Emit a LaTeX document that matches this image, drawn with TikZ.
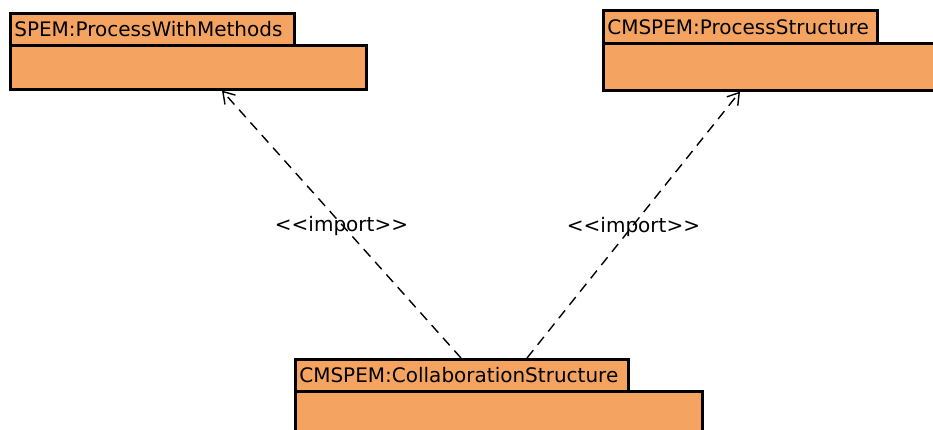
\documentclass[tikz,border=0pt]{standalone}
\usepackage{fontspec}
\setmainfont{DejaVu Sans}
\usetikzlibrary{arrows.meta}
\definecolor{pkgfill}{RGB}{244,164,96}
\begin{document}
\begin{tikzpicture}[x=1pt,y=-1pt,
  pkgtab/.style={draw=black, line width=2.6pt, fill=pkgfill, anchor=north west,
    inner xsep=4pt, inner ysep=0pt, align=left, font=\fontsize{20}{23}\selectfont},
  pkgbody/.style={draw=black, line width=2.6pt, fill=pkgfill, anchor=north west, inner sep=0pt},
  dep/.style={line width=1.4pt, dash pattern=on 10pt off 7pt,
    -{Straight Barb[length=11pt,width=14pt,line width=1.4pt]}},
  deplabel/.style={font=\fontsize{20}{23}\selectfont, inner sep=0pt, yshift=-2pt}]
\useasboundingbox (0,0) rectangle (933,430);
% package 1
\node[pkgbody, minimum width=356pt, minimum height=44pt] (b1) at (9,44) {};
\node[pkgtab, text width=276pt, minimum height=32pt] (t1) at (9,12) {SPEM:ProcessWithMethods};
% package 2
\node[pkgbody, minimum width=360pt, minimum height=47pt] (b2) at (602,42) {};
\node[pkgtab, text width=266pt, minimum height=33pt] (t2) at (602,9) {CMSPEM:ProcessStructure};
% package 3
\node[pkgbody, minimum width=407pt, minimum height=60pt] (b3) at (294,390) {};
\node[pkgtab, text width=325pt, minimum height=32pt] (t3) at (294,358) {CMSPEM:CollaborationStructure};
% dependencies
\draw[dep] ([xshift=167pt]t3.north west) -- node[deplabel]{<\kern0pt<import>\kern0pt>} ([xshift=213pt]b1.south west);
\draw[dep] ([xshift=233pt]t3.north west) -- node[deplabel]{<\kern0pt<import>\kern0pt>} ([xshift=138pt]b2.south west);
\end{tikzpicture}
\end{document}
